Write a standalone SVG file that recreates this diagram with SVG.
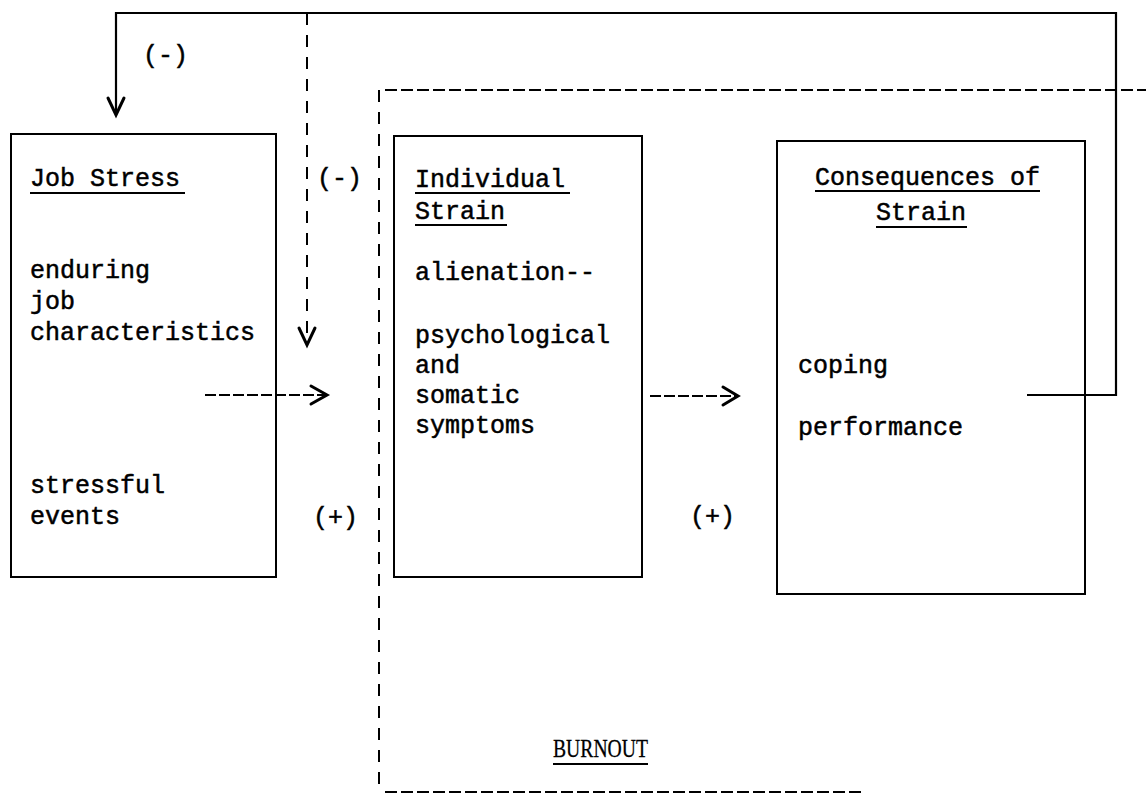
<svg xmlns="http://www.w3.org/2000/svg" width="1146" height="796" viewBox="0 0 1146 796">
<style>
.t{font-family:"Liberation Mono","DejaVu Sans Mono",monospace;font-size:25px;fill:#000;stroke:#000;stroke-width:0.5}
.s{font-family:"Liberation Serif","DejaVu Serif",serif;font-size:26px;fill:#000;stroke:#000;stroke-width:0.3}
.box{fill:none;stroke:#000;stroke-width:2}
.ul{stroke:#000;stroke-width:1.8}
.solid{fill:none;stroke:#000;stroke-width:2.2}
.dv{fill:none;stroke:#000;stroke-width:2;stroke-dasharray:12 10}
.dh{fill:none;stroke:#000;stroke-width:2;stroke-dasharray:12 4}
.da{fill:none;stroke:#000;stroke-width:2.2;stroke-dasharray:11 3}
.head{fill:none;stroke:#000;stroke-width:3;stroke-linejoin:miter;stroke-linecap:round}
</style>
<rect width="1146" height="796" fill="#fff"/>

<g id="burnout">
<path class="dv" d="M379 90 V792"/>
<path class="dh" d="M385 90 H1146"/>
<path class="dh" d="M385 792 H862"/>
<text class="s" x="553" y="757" textLength="95" lengthAdjust="spacingAndGlyphs">BURNOUT</text>
<line class="ul" x1="553" y1="764" x2="648" y2="764"/>
</g>

<g id="job-stress">
<rect class="box" x="11" y="134" width="265" height="443"/>
<text class="t" x="30" y="186">Job Stress</text>
<line class="ul" x1="30" y1="193" x2="185" y2="193"/>
<text class="t" x="30" y="278">enduring</text>
<text class="t" x="30" y="309">job</text>
<text class="t" x="30" y="340">characteristics</text>
<text class="t" x="30" y="493">stressful</text>
<text class="t" x="30" y="524">events</text>
</g>

<g id="individual-strain">
<rect class="box" x="394" y="136" width="248" height="441"/>
<text class="t" x="415" y="187">Individual</text>
<line class="ul" x1="415" y1="193" x2="570" y2="193"/>
<text class="t" x="415" y="219">Strain</text>
<line class="ul" x1="415" y1="225" x2="507" y2="225"/>
<text class="t" x="415" y="280">alienation--</text>
<text class="t" x="415" y="343">psychological</text>
<text class="t" x="415" y="373">and</text>
<text class="t" x="415" y="403">somatic</text>
<text class="t" x="415" y="433">symptoms</text>
</g>

<g id="consequences">
<rect class="box" x="777" y="141" width="308" height="453"/>
<text class="t" x="815" y="185">Consequences of</text>
<line class="ul" x1="815" y1="191" x2="1040" y2="191"/>
<text class="t" x="876" y="220">Strain</text>
<line class="ul" x1="876" y1="227" x2="967" y2="227"/>
<text class="t" x="798" y="373">coping</text>
<text class="t" x="798" y="435">performance</text>
</g>

<g id="connectors">
<path class="solid" d="M1027 395 H1116 V13 H116 V114"/>
<path class="head" d="M108 98 L116 115 L124 98"/>
<text class="t" x="143" y="63">(-)</text>

<path class="dv" d="M307 13 V343"/>
<path class="head" d="M299 328 L307 345 L315 328"/>
<text class="t" x="317" y="186">(-)</text>

<path class="da" d="M205 395 H325"/>
<path class="head" d="M311 386 L327 395 L311 404"/>
<text class="t" x="313" y="525">(+)</text>

<path class="da" d="M650 396 H736"/>
<path class="head" d="M723 387 L738 396 L723 405"/>
<text class="t" x="690" y="524">(+)</text>
</g>
</svg>
